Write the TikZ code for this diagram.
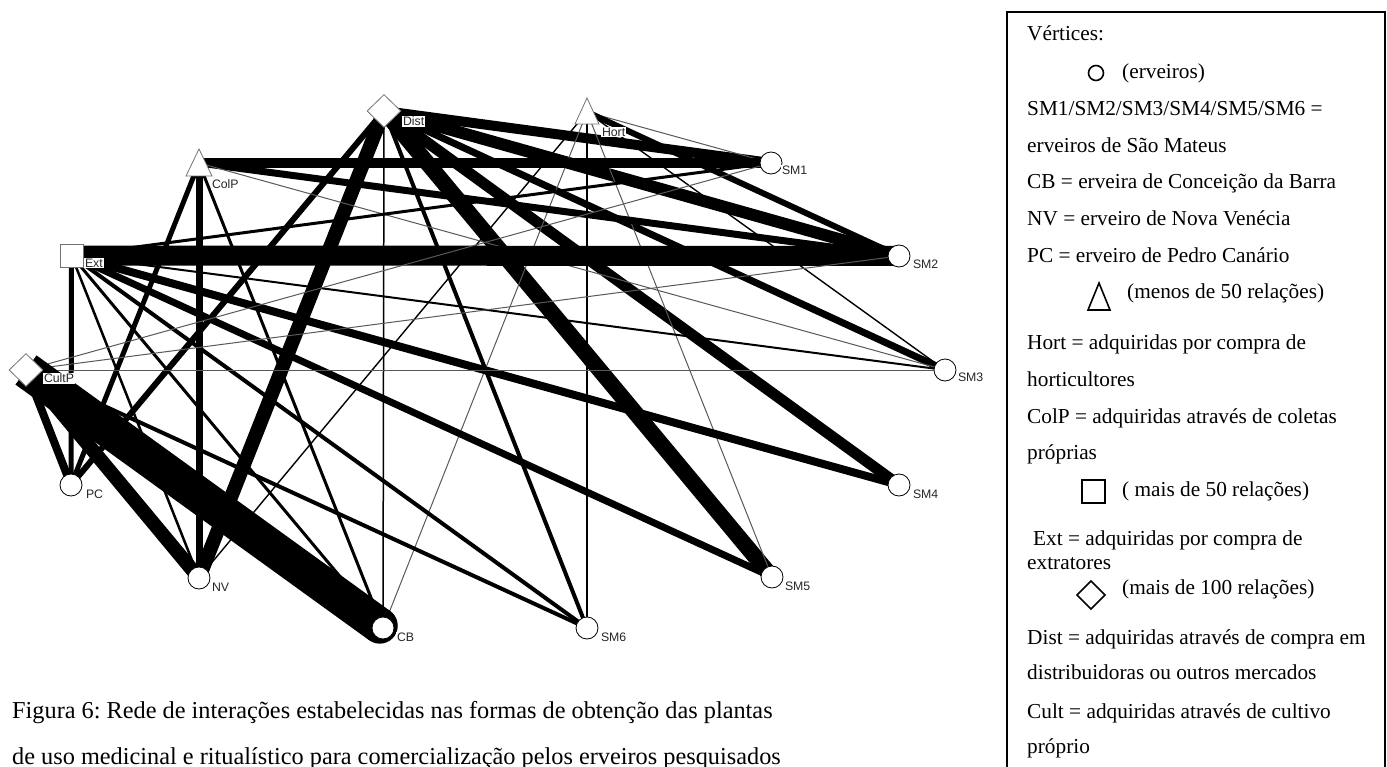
\documentclass[tikz,border=0pt]{standalone}
\usepackage{fontspec}
\setmainfont{Liberation Serif}
\newfontfamily\lblfont{Liberation Sans}
\usetikzlibrary{shapes.geometric,backgrounds,calc}
\frenchspacing
\begin{document}
\begin{tikzpicture}[x=1pt,y=-1pt,
  vtx/.style={circle,draw=black,line width=0.8pt,fill=white,minimum size=22pt,inner sep=0pt},
  dia/.style={diamond,draw=black!55,line width=0.8pt,fill=white,minimum width=34pt,minimum height=33pt,inner sep=0pt},
  sqr/.style={rectangle,draw=black!55,line width=0.8pt,fill=white,minimum size=23pt,inner sep=0pt},
  pnt/.style={inner sep=0pt,minimum size=0pt},
  tri/.style={draw=black!55,line width=0.8pt,fill=white},
  lbl/.style={anchor=north west,fill=white,inner sep=0.8pt,font=\lblfont\fontsize{12.3}{13}\selectfont,text=black!85},
  ed/.style={line width=#1pt,line cap=round,draw=black},
  fine/.style={line width=1pt,draw=black!65},
  leg/.style={anchor=base west,inner sep=0pt,font=\fontsize{21.3}{24}\selectfont},
  captxt/.style={anchor=base west,inner sep=0pt,font=\fontsize{24.3}{28}\selectfont},
  legsym/.style={draw=black,line width=1.6pt,fill=white},
]
\useasboundingbox (0,0) rectangle (1387,767);

% ---------- vertices ----------
\node[dia] (Dist) at (384,111) {};
\node[pnt] (Hort) at (587,112) {};
\node[pnt] (ColP) at (199,163) {};
\node[sqr] (Ext) at (71.5,255.5) {};
\node[dia] (CultP) at (26,370) {};
\node[vtx] (SM1) at (771,163) {};
\node[vtx] (SM2) at (899,256) {};
\node[vtx] (SM3) at (945,370) {};
\node[vtx] (SM4) at (899,485) {};
\node[vtx] (SM5) at (772,577) {};
\node[vtx] (SM6) at (587,628) {};
\node[vtx] (CB) at (383,628) {};
\node[vtx] (NV) at (199,578) {};
\node[vtx] (PC) at (71,485) {};
\draw[tri] (Hort) ++(0,-14) -- ++(12,26) -- ++(-24,0) -- cycle;
\draw[tri] (ColP) ++(0,-14) -- ++(13,27) -- ++(-26,0) -- cycle;

% ---------- labels ----------
\node[lbl] (lDist) at (402,116) {Dist};
\node[lbl] (lHort) at (601,127) {Hort};
\node[lbl] (lColP) at (211,179) {ColP};
\node[lbl] (lExt) at (84,258) {Ext};
\node[lbl] (lCultP) at (43,373) {CultP};
\node[lbl] (lSM1) at (781,165) {SM1};
\node[lbl] (lSM2) at (912,259) {SM2};
\node[lbl] (lSM3) at (957,372) {SM3};
\node[lbl] (lSM4) at (912,489) {SM4};
\node[lbl] (lSM5) at (784,581) {SM5};
\node[lbl] (lSM6) at (600,632) {SM6};
\node[lbl] (lCB) at (396,632) {CB};
\node[lbl] (lNV) at (211,582) {NV};
\node[lbl] (lPC) at (85,489) {PC};

% ---------- edges ----------
\begin{pgfonlayer}{background}
\fill[white] (0,0) rectangle (1387,767);
% Dist
\draw[ed=10] (Dist.center) -- (SM1.center);
\draw[ed=12] (Dist.center) -- (SM2.center);
\draw[ed=7] (Dist.center) -- (SM3.center);
\draw[ed=11] (Dist.center) -- (SM4.center);
\draw[ed=16] (Dist.center) -- (SM5.center);
\draw[ed=4] (Dist.center) -- (SM6.center);
\draw[ed=1.5] (Dist.center) -- (CB.center);
\draw[ed=14] (Dist.center) -- (NV.center);
\draw[ed=6] (Dist.center) -- (PC.center);
% Hort
\draw[fine] (Hort.center) -- (SM1.center);
\draw[ed=6] (Hort.center) -- (SM2.center);
\draw[ed=1.4] (Hort.center) -- (SM3.center);
\draw[fine] (Hort.center) -- (SM5.center);
\draw[ed=1.2] (Hort.center) -- (SM6.center);
\draw[fine] (Hort.center) -- (CB.center);
\draw[ed=1.4] (Hort.center) -- (NV.center);
% ColP
\draw[ed=10] (ColP.center) -- (SM1.center);
\draw[ed=7] (ColP.center) -- (SM2.center);
\draw[fine] (ColP.center) -- (SM3.center);
\draw[ed=7] (ColP.center) -- (NV.center);
\draw[ed=5] (ColP.center) -- (PC.center);
\draw[ed=3] (ColP.center) -- (CB.center);
% Ext
\draw[ed=3] (Ext.center) -- (SM1.center);
\draw[ed=20] (Ext.center) -- (SM2.center);
\draw[ed=2] (Ext.center) -- (SM3.center);
\draw[ed=8] (Ext.center) -- (SM4.center);
\draw[ed=7] (Ext.center) -- (SM5.center);
\draw[ed=4] (Ext.center) -- (SM6.center);
\draw[ed=3] (Ext.center) -- (CB.center);
\draw[ed=2.5] (Ext.center) -- (NV.center);
\draw[ed=5] (Ext.center) -- (PC.center);
% CultP
\draw[fine] (CultP.center) -- (SM1.center);
\draw[fine] (CultP.center) -- (SM2.center);
\draw[fine] (CultP.center) -- (SM3.center);
\draw[ed=4] (CultP.center) -- (SM6.center);
\draw[line width=36pt,line cap=butt] (CultP.center) -- ($(CB.center)!4pt!(CultP.center)$) coordinate (cbend);
\fill (cbend) circle (18);
\draw[ed=14] (CultP.center) -- (NV.center);
\draw[ed=8] (CultP.center) -- (PC.center);
\end{pgfonlayer}

% ---------- legend ----------
\draw[line width=2pt] (1007,800) -- (1007,12) -- (1385,12) -- (1385,800);
\draw[legsym] (1096,73) circle (7.5);
\draw[legsym] (1099,283) -- (1110,310) -- (1088,310) -- cycle;
\draw[legsym] (1082,480) rectangle (1105,503);
\draw[legsym] (1091,581) -- (1105,595) -- (1091,609) -- (1077,595) -- cycle;
\node[leg] (g1) at (1027,41) {Vértices:};
\node[leg] (g2) at (1122,79) {(erveiros)};
\node[leg] (g3) at (1027,116) {SM1/SM2/SM3/SM4/SM5/SM6 =};
\node[leg] (g4) at (1027,153) {erveiros de São Mateus};
\node[leg] (g5) at (1027,189) {CB = erveira de Conceição da Barra};
\node[leg] (g6) at (1027,226) {NV = erveiro de Nova Venécia};
\node[leg] (g7) at (1027,263) {PC = erveiro de Pedro Canário};
\node[leg] (g8) at (1127,299) {(menos de 50 relações)};
\node[leg] (g9) at (1027,349) {Hort = adquiridas por compra de};
\node[leg] (g10) at (1027,386) {horticultores};
\node[leg] (g11) at (1027,423) {ColP = adquiridas através de coletas};
\node[leg] (g12) at (1027,459) {próprias};
\node[leg] (g13) at (1122,496) {( mais de 50 relações)};
\node[leg] (g14) at (1033,545) {Ext = adquiridas por compra de};
\node[leg] (g15) at (1027,569) {extratores};
\node[leg] (g16) at (1122,594) {(mais de 100 relações)};
\node[leg] (g17) at (1027,644) {Dist = adquiridas através de compra em};
\node[leg] (g18) at (1027,679) {distribuidoras ou outros mercados};
\node[leg] (g19) at (1027,718) {Cult = adquiridas através de cultivo};
\node[leg] (g20) at (1027,753) {próprio};

% ---------- caption ----------
\node[captxt] (cap1) at (12,718) {Figura 6: Rede de interações estabelecidas nas formas de obtenção das plantas};
\node[captxt] (cap2) at (12,764) {de uso medicinal e ritualístico para comercialização pelos erveiros pesquisados};
\end{tikzpicture}
\end{document}
